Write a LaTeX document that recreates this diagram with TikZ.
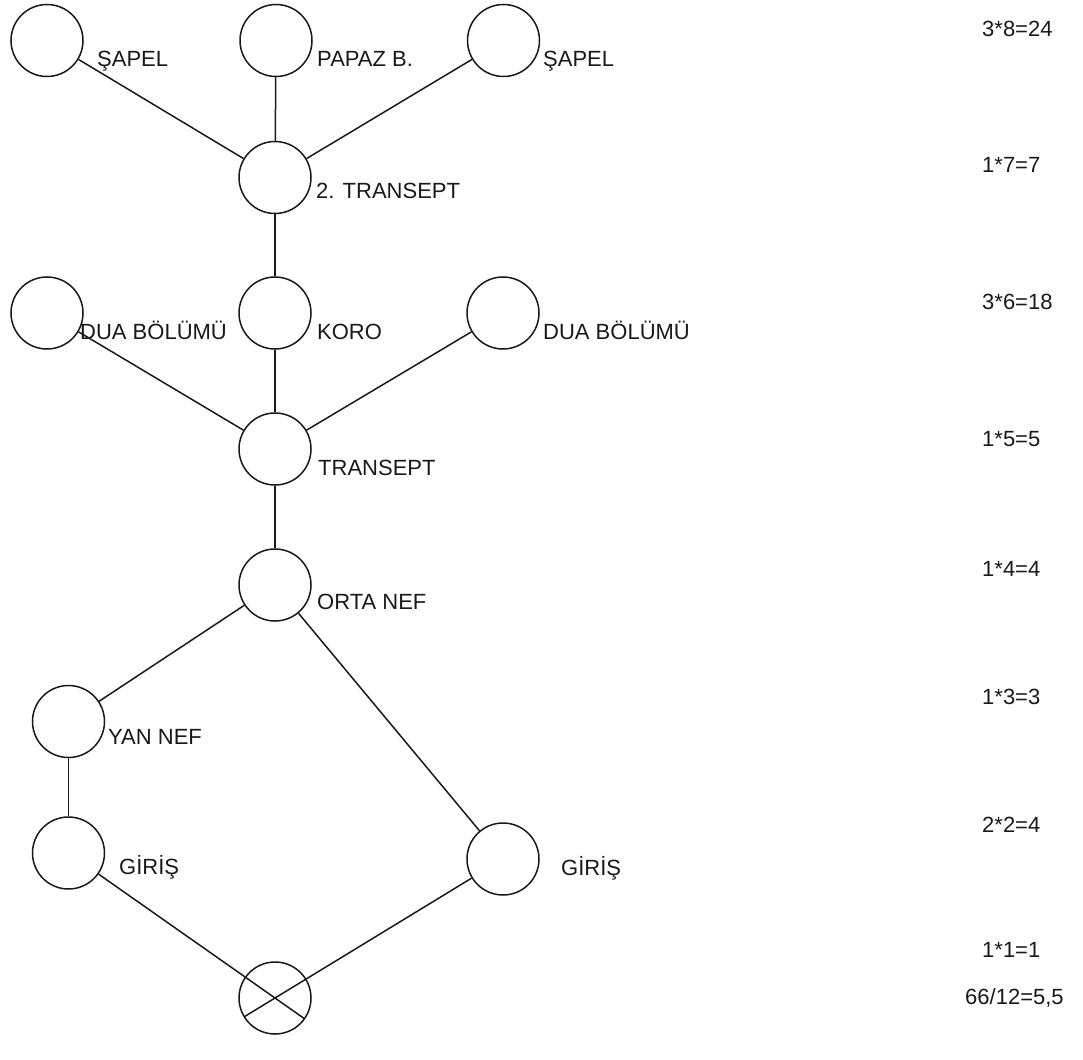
\documentclass[tikz,border=0pt]{standalone}
\usepackage{fontspec}
\setmainfont{Liberation Sans}
\begin{document}
\begin{tikzpicture}[x=1pt,y=-1pt,
  room/.style={circle,draw=black!90,line width=1.5pt,minimum size=72pt,inner sep=0pt},
  tag/.style={anchor=base west,inner sep=0pt,text=black!90,font=\fontsize{22}{26}\selectfont},
  link/.style={draw=black!90,line width=1.5pt}]
\useasboundingbox (0,0) rectangle (1083,1059);

% spaces of the plan
\node[room] (sapelL) at (47,40.5) {};
\node[room] (papaz)  at (276,40.5) {};
\node[room] (sapelR) at (503.5,40.5) {};
\node[room] (trB)    at (275,177.5) {};
\node[room] (duaL)   at (47,313) {};
\node[room] (koro)   at (275,313) {};
\node[room] (duaR)   at (503,313) {};
\node[room] (tr)     at (275,449) {};
\node[room] (orta)   at (275,585) {};
\node[room] (yan)    at (68.5,721.5) {};
\node[room] (girL)   at (68.5,853) {};
\node[room] (girR)   at (503,859) {};
\node[room] (entry)  at (275,998) {};

% names of the spaces
\node[tag] (tSapelL) at (97,67)   {ŞAPEL};
\node[tag] (tPapaz)  at (317,67)  {PAPAZ B.};
\node[tag] (tSapelR) at (543,67)  {ŞAPEL};
\node[tag] (tTrB)    at (316,199) {2. TRANSEPT};
\node[tag] (tDuaL)   at (80,339)  {DUA BÖLÜMÜ};
\node[tag] (tKoro)   at (317,339) {KORO};
\node[tag] (tDuaR)   at (543,339) {DUA BÖLÜMÜ};
\node[tag] (tTr)     at (318,475) {TRANSEPT};
\node[tag] (tOrta)   at (317,609) {ORTA NEF};
\node[tag] (tYan)    at (108,744) {YAN NEF};
\node[tag] (tGirL)   at (119,874) {GİRİŞ};
\node[tag] (tGirR)   at (561,875) {GİRİŞ};

% depth counts per level
\node[tag] (d8) at (982,37)  {3*8=24};
\node[tag] (d7) at (982,173) {1*7=7};
\node[tag] (d6) at (982,309) {3*6=18};
\node[tag] (d5) at (982,446) {1*5=5};
\node[tag] (d4) at (982,576) {1*4=4};
\node[tag] (d3) at (982,704) {1*3=3};
\node[tag] (d2) at (982,832) {2*2=4};
\node[tag] (d1) at (982,957) {1*1=1};
\node[tag] (avg) at (965,1004) {66/12=5,5};

% connections
\draw[link] (sapelL) -- (trB);
\draw[link] (papaz) -- (trB);
\draw[link] (sapelR) -- (trB);
\draw[link,line width=2pt] (trB) -- (koro);
\draw[link] (duaL) -- (tr);
\draw[link] (koro) -- (tr);
\draw[link] (duaR) -- (tr);
\draw[link] (tr) -- (orta);
\draw[link] (orta) -- (yan);
\draw[link] (orta) -- (girR);
\draw[link] (yan) -- (girL);
% the two entrance paths cross inside the outside circle
\draw[link,shorten >=-36pt] (girL) -- (entry.center);
\draw[link,shorten >=-36pt] (girR) -- (entry.center);
\end{tikzpicture}
\end{document}
